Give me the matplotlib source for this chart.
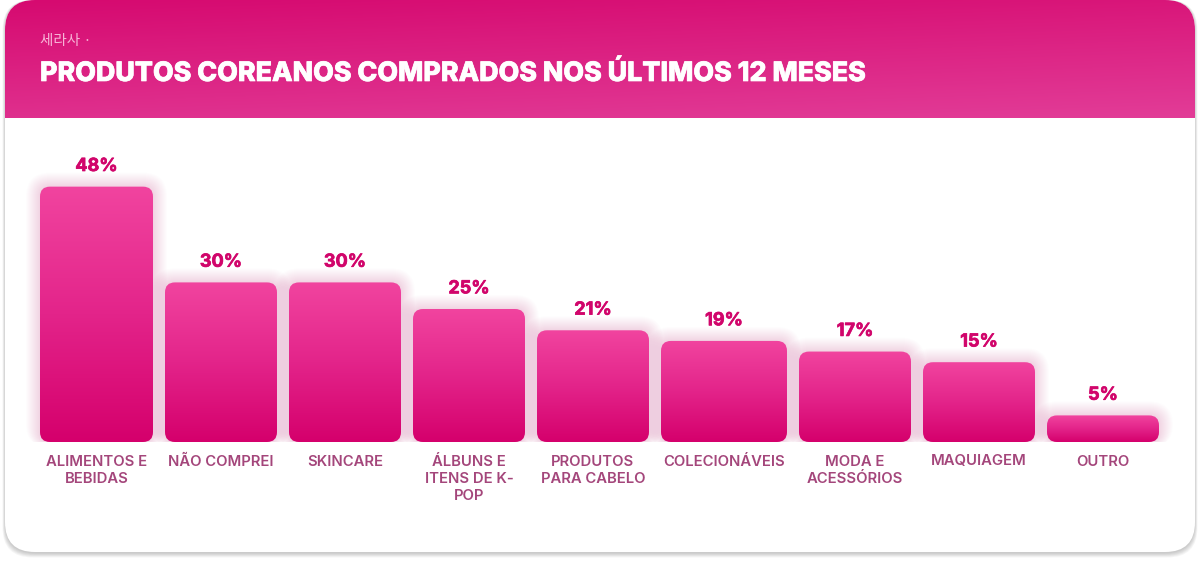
import numpy as np
import matplotlib
matplotlib.use("Agg")
import matplotlib.pyplot as plt
import matplotlib.patheffects as pe
from matplotlib.patches import FancyBboxPatch
from matplotlib.colors import LinearSegmentedColormap

# --- data ---
categories = ["ALIMENTOS E\nBEBIDAS", "NÃO COMPREI", "SKINCARE", "ÁLBUNS E\nITENS DE K-\nPOP",
              "PRODUTOS\nPARA CABELO", "COLECIONÁVEIS", "MODA E\nACESSÓRIOS", "MAQUIAGEM", "OUTRO"]
values = [48, 30, 30, 25, 21, 19, 17, 15, 5]
value_labels = ["48%", "30%", "30%", "25%", "21%", "19%", "17%", "15%", "5%"]

SUBTITLE = "세라사 ·"
TITLE = "PRODUTOS COREANOS COMPRADOS NOS ÚLTIMOS 12 MESES"

# --- layout (pixels) ---
W, H = 1200, 564
BAR_LEFT = 40
BAR_GAP = 12
bar_widths = [113, 112, 112, 112, 112, 126, 112, 112, 112]
BASE_Y = 442          # pixel row of bar bottoms
PX_PER_PCT = 5.32
AX_H = 300            # pixel height of bar axes
RADIUS = 10

BAR_CMAP = LinearSegmentedColormap.from_list("bar", ["#d5006c", "#e3248a", "#f1449f"])
HEAD_CMAP = LinearSegmentedColormap.from_list("head", ["#e23c97", "#d60a70"])
VALUE_COLOR = "#d1056b"
LABEL_COLOR = "#a4467b"

plt.rcParams['font.family'] = ['Inter', 'DejaVu Sans']

fig = plt.figure(figsize=(W / 100, H / 100), dpi=100)
fig.patch.set_facecolor("white")

# background / card axes in pixel coordinates
bg = fig.add_axes([0, 0, 1, 1])
bg.set_xlim(0, W)
bg.set_ylim(H, 0)
bg.axis("off")

# card shadow
for i in range(6):
    sh = FancyBboxPatch((5 - i * 0.5, 0), 1190 + i, 552 + 1.5 + i * 0.8,
                        boxstyle="round,pad=0,rounding_size=30",
                        fc="#000000", ec="none", alpha=0.035, zorder=1)
    bg.add_patch(sh)
card = FancyBboxPatch((5, 0), 1190, 552, boxstyle="round,pad=0,rounding_size=30",
                      fc="white", ec="none", zorder=2)
bg.add_patch(card)

# header gradient clipped to card
grad = np.linspace(0, 1, 256).reshape(-1, 1) * np.ones((1, 2))
gx, gy = np.meshgrid(np.linspace(0, 1, 64), np.linspace(0, 1, 64))
hg = np.clip(0.75 * (1 - gy) + 0.25 * (1 - gx), 0, 1)
im = bg.imshow(hg, cmap=HEAD_CMAP, extent=[5, 1195, 118, 0], aspect="auto", zorder=3,
               interpolation="bilinear")
im.set_clip_path(card)

bg.text(40, 41, SUBTITLE, color="#f7b3d6", fontsize=10.5,
        family=['Noto Sans CJK KR', 'DejaVu Sans'], va="center", ha="left", zorder=4)
bg.text(40, 74, TITLE, color="white", fontsize=19.3, fontweight="heavy",
        va="center", ha="left", zorder=4,
        path_effects=[pe.withStroke(linewidth=0.5, foreground="white")])

# bar axes
ax = fig.add_axes([0, 1 - BASE_Y / H, 1, AX_H / H])
ax.set_xlim(0, W)
ax.set_ylim(0, AX_H / PX_PER_PCT)
ax.axis("off")
ax.patch.set_alpha(0)
aspect = 1 / PX_PER_PCT

lefts = []
x = BAR_LEFT
for w in bar_widths:
    lefts.append(x)
    x += w + BAR_GAP

for left, w, v, vl, cat in zip(lefts, bar_widths, values, value_labels, categories):
    # soft pink glow
    for k in range(14, 0, -1):
        g = FancyBboxPatch((left - k, -k * aspect * 0.4), w + 2 * k, v + k * aspect * 1.4,
                           boxstyle=f"round,pad=0,rounding_size={RADIUS + k}",
                           mutation_aspect=aspect, fc="#e6288e", ec="none",
                           alpha=0.012, zorder=1)
        ax.add_patch(g)
    bar = FancyBboxPatch((left, 0), w, v, boxstyle=f"round,pad=0,rounding_size={RADIUS}",
                         mutation_aspect=aspect, fc="none", ec="none", zorder=2)
    ax.add_patch(bar)
    bim = ax.imshow(grad, cmap=BAR_CMAP, extent=[left, left + w, 0, v], origin="lower",
                    aspect="auto", zorder=2, interpolation="bilinear")
    bim.set_clip_path(bar)
    cx = left + w / 2
    ax.annotate(vl, (cx, v), xytext=(0, 14.5), textcoords="offset points",
                ha="center", va="center", color=VALUE_COLOR, fontsize=13,
                fontweight="bold", zorder=5, annotation_clip=False,
                path_effects=[pe.withStroke(linewidth=0.5, foreground=VALUE_COLOR)])
    ax.annotate(cat, (cx, 0), xytext=(0, -9), textcoords="offset points",
                ha="center", va="top", color=LABEL_COLOR, fontsize=10.7,
                fontweight="semibold", linespacing=1.3, zorder=5,
                annotation_clip=False)

fig.savefig("out.png", dpi=100)
